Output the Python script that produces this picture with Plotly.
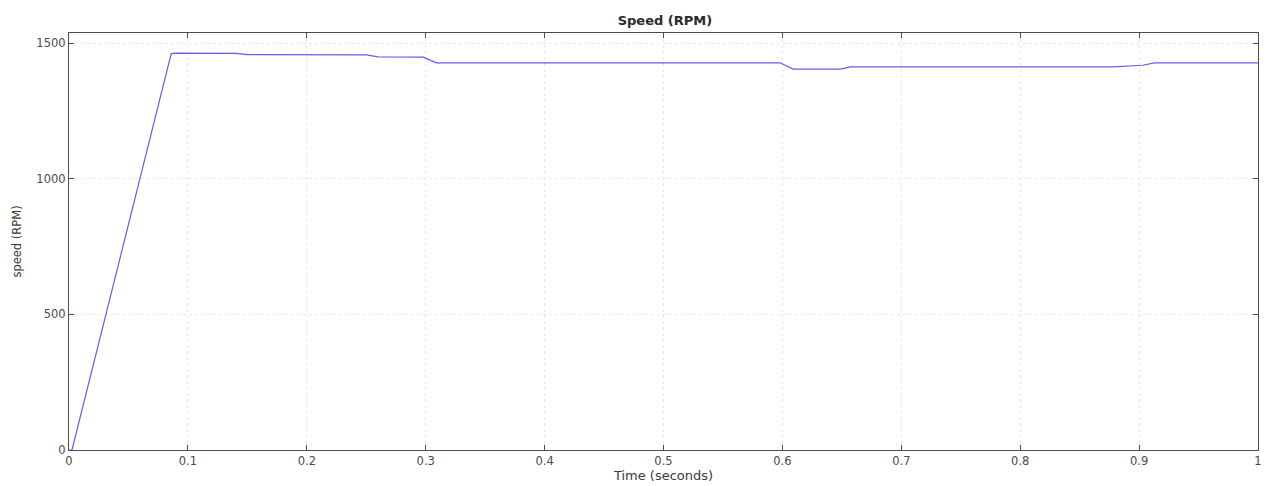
import plotly.graph_objects as go

# Rotor speed trace (breakpoints of the simulated response)
time_s = [0.0, 0.0025, 0.086, 0.09, 0.14, 0.15, 0.25, 0.26, 0.298, 0.309,
          0.598, 0.609, 0.649, 0.657, 0.878, 0.895, 0.903, 0.913, 1.0]
speed_rpm = [0, 0, 1462, 1464, 1463, 1458, 1457, 1450, 1449, 1428,
             1428, 1405, 1405, 1413, 1413, 1417, 1419, 1428, 1428]

x_ticks = [0, 0.1, 0.2, 0.3, 0.4, 0.5, 0.6, 0.7, 0.8, 0.9, 1]
x_tick_text = ["0", "0.1", "0.2", "0.3", "0.4", "0.5", "0.6", "0.7", "0.8", "0.9", "1"]
y_ticks = [0, 500, 1000, 1500]

font_family = "DejaVu Sans, Verdana, sans-serif"
axis_color = "#4d4d4d"

fig = go.Figure()
fig.add_trace(go.Scatter(
    x=time_s, y=speed_rpm, mode="lines",
    line=dict(color="#6060ee", width=1.2),
    showlegend=False,
))

common_axis = dict(
    showline=True, linecolor=axis_color, linewidth=1.2, mirror="ticks",
    ticks="inside", ticklen=5, tickcolor=axis_color, tickwidth=1,
    showgrid=True, gridcolor="#e8e8e8", griddash="dot", gridwidth=1,
    zeroline=False,
    tickfont=dict(family=font_family, size=11.5, color="#4a4a4a"),
)

fig.update_layout(
    width=1269, height=486,
    margin=dict(l=69, r=7, t=33, b=36),
    paper_bgcolor="white", plot_bgcolor="white",
    title=dict(text="<b>Speed (RPM)</b>", x=0.524, xanchor="center",
               y=1 - 20 / 486, yanchor="middle",
               font=dict(family=font_family, size=13, color="#2a2a2a")),
    xaxis=dict(range=[0, 1], tickvals=x_ticks, ticktext=x_tick_text,
               title=dict(text="Time (seconds)", standoff=0,
                          font=dict(family=font_family, size=13, color="#3a3a3a")),
               **common_axis),
    yaxis=dict(range=[0, 1538], tickvals=y_ticks,
               title=dict(text="speed (RPM)", standoff=12,
                          font=dict(family=font_family, size=11.5, color="#3a3a3a")),
               **common_axis),
)

fig.write_html("out.html")
